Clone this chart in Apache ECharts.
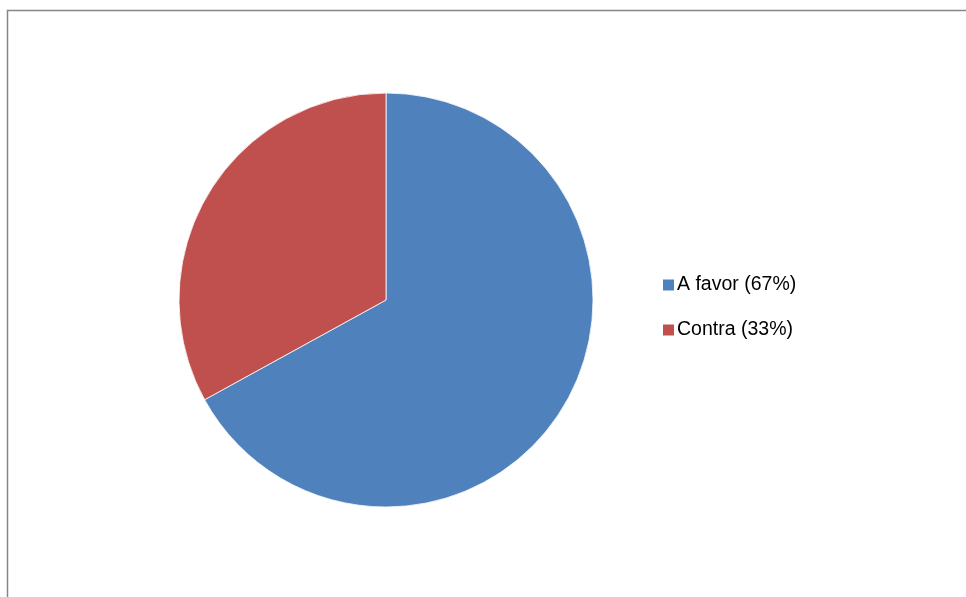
<!DOCTYPE html>
<html>
<head>
<meta charset="utf-8">
<script src="https://cdn.jsdelivr.net/npm/echarts@6/dist/echarts.min.js"></script>
<style>html,body{margin:0;padding:0;background:#fff;}#c{width:966px;height:597px;}</style>
</head>
<body>
<div id="c"></div>
<script>
const categories = ['A favor', 'Contra'];
const values = [67, 33];
const colors = ['#4F81BD', '#C0504D'];

const chart = echarts.init(document.getElementById('c'), null, {renderer: 'canvas'});
const total = values.reduce((a, b) => a + b, 0);
chart.setOption({
  animation: false,
  backgroundColor: '#fff',
  color: colors,
  graphic: [{
    type: 'rect',
    shape: {x: 7.5, y: 10.5, width: 1000, height: 700},
    style: {fill: 'none', stroke: '#868686', lineWidth: 1.5},
    silent: true
  }],
  legend: {
    orient: 'vertical',
    left: 656,
    top: 270,
    itemWidth: 13,
    itemHeight: 13,
    itemGap: 25,
    icon: 'rect',
    textStyle: {fontFamily: 'Liberation Sans, Arial', fontSize: 19.5, color: '#000', padding: [0, 0, 0, -3]},
    formatter: name => {
      const i = categories.indexOf(name);
      return name + ' (' + Math.round(values[i] / total * 100) + '%)';
    },
    data: categories
  },
  series: [{
    type: 'pie',
    center: [386, 300],
    radius: [0, 207],
    startAngle: 90,
    clockwise: true,
    label: {show: false},
    labelLine: {show: false},
    itemStyle: {borderColor: '#fff', borderWidth: 0.8},
    emphasis: {disabled: true},
    data: categories.map((c, i) => ({name: c, value: values[i]}))
  }]
});
</script>
</body>
</html>
